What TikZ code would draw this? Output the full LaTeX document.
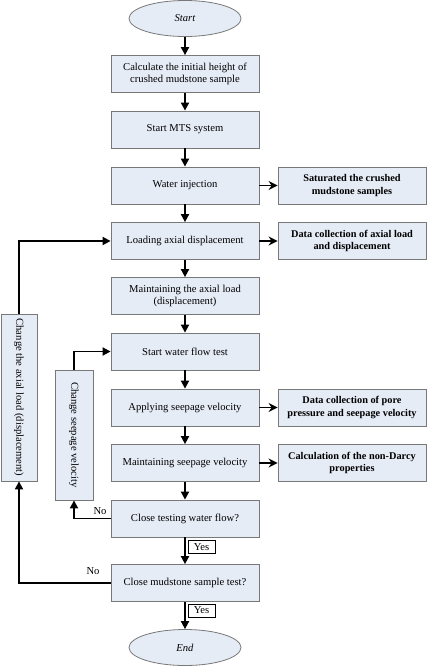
\documentclass[tikz,border=0pt]{standalone}
\usepackage{fontspec}
\setmainfont{Liberation Serif}
\usetikzlibrary{shapes.geometric,arrows.meta}
\definecolor{boxfill}{RGB}{230,236,246}
\definecolor{boxline}{RGB}{120,120,120}
\begin{document}
\begin{tikzpicture}[x=1pt,y=-1pt,
  box/.style={draw=boxline,line width=0.8pt,fill=boxfill,rectangle,minimum width=148pt,minimum height=37pt,inner sep=1pt,align=center,font=\fontsize{10.6}{12.5}\selectfont},
  rbox/.style={box,font=\fontsize{10.3}{12.5}\selectfont\bfseries},
  term/.style={draw=boxline,line width=0.8pt,fill=boxfill,ellipse,minimum width=112pt,minimum height=36pt,inner sep=0pt,font=\fontsize{10.6}{12.5}\selectfont\itshape},
  vbox/.style={draw=boxline,line width=0.8pt,fill=boxfill,rectangle,rotate=-90,inner sep=1pt,font=\fontsize{10.6}{12.5}\selectfont},
  arr/.style={line width=1.8pt,-{Triangle[length=8pt,width=8pt]}},
  sarr/.style={line width=1.8pt,-{Stealth[length=9pt,width=9pt,inset=3pt]}},
  yesbox/.style={draw=black,line width=0.6pt,fill=white,inner sep=1.5pt,minimum width=27pt,minimum height=13pt,font=\fontsize{10.6}{11}\selectfont},
  lbl/.style={font=\fontsize{10.6}{11}\selectfont}]
\useasboundingbox (0,0) rectangle (427,667);
\node[term] (start) at (185,18.5) {Start};
\node[box] (b1) at (185,74) {Calculate the initial height of\\crushed mudstone sample};
\node[box] (b2) at (185,129.5) {Start MTS system};
\node[box] (b3) at (185,185.5) {Water injection};
\node[box] (b4) at (185,241) {Loading axial displacement};
\node[box] (b5) at (185,296) {Maintaining the axial load\\(displacement)};
\node[box] (b6) at (185,351.5) {Start water flow test};
\node[box] (b7) at (185,407.5) {Applying seepage velocity};
\node[box] (b8) at (185,463) {Maintaining seepage velocity};
\node[box] (b9) at (185,518.5) {Close testing water flow?};
\node[box] (b10) at (185,583) {Close mudstone sample test?};
\node[term] (end) at (185,647.5) {End};
\node[rbox] (r1) at (352,185.5) {Saturated the crushed\\mudstone samples};
\node[rbox] (r2) at (352,241) {Data collection of axial load\\and displacement};
\node[rbox] (r3) at (352,407.5) {Data collection of pore\\pressure and seepage velocity};
\node[rbox] (r4) at (352,463) {Calculation of the non-Darcy\\properties};
\node[vbox,minimum width=167pt,minimum height=36pt] (L) at (19,397.5) {Change the axial load (displacement)};
\node[vbox,minimum width=130pt,minimum height=38pt] (S) at (74,435) {Change seepage velocity};
\draw[arr] (start) -- (b1);
\draw[arr] (b1) -- (b2);
\draw[arr] (b2) -- (b3);
\draw[arr] (b3) -- (b4);
\draw[arr] (b4) -- (b5);
\draw[arr] (b5) -- (b6);
\draw[arr] (b6) -- (b7);
\draw[arr] (b7) -- (b8);
\draw[arr] (b8) -- (b9);
\draw[arr] (b9) -- (b10);
\draw[arr] (b10) -- (end);
\draw[sarr] (b3) -- (r1);
\draw[sarr] (b4) -- (r2);
\draw[sarr] (b7) -- (r3);
\draw[sarr] (b8) -- (r4);
\draw[arr] (b9.west) -| (S.east);
\draw[arr] (S.west) |- (b6.west);
\draw[arr] (b10.west) -| (L.east);
\draw[arr] (L.west) |- (b4.west);
\node[yesbox] (y1) at (201.5,547) {Yes};
\node[yesbox] (y2) at (201.5,610.5) {Yes};
\node[lbl] (n1) at (100,511.5) {No};
\node[lbl] (n2) at (93,571) {No};
\end{tikzpicture}
\end{document}
